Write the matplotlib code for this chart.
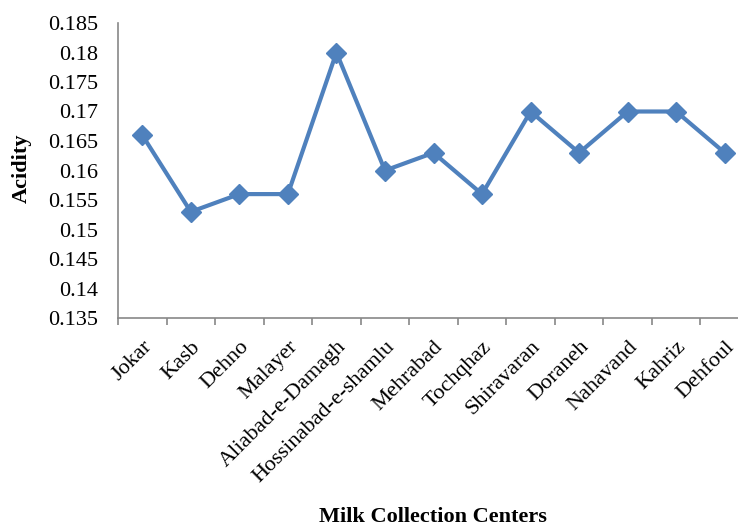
import numpy as np
import matplotlib.pyplot as plt
from matplotlib.ticker import FixedLocator, NullFormatter

centers = ["Jokar", "Kasb", "Dehno", "Malayer", "Aliabad-e-Damagh",
           "Hossinabad-e-shamlu", "Mehrabad", "Tochqhaz", "Shiravaran",
           "Doraneh", "Nahavand", "Kahriz", "Dehfoul"]
acidity = [0.166, 0.153, 0.156, 0.156, 0.180, 0.160, 0.163,
           0.156, 0.170, 0.163, 0.170, 0.170, 0.163]
yticks = [0.135, 0.14, 0.145, 0.15, 0.155, 0.16, 0.165,
          0.17, 0.175, 0.18, 0.185]

plt.rcParams['font.family'] = ['Liberation Serif', 'DejaVu Serif']

fig = plt.figure(figsize=(7.38, 5.29), dpi=100)
# axis extends slightly past the right edge, like the cropped original
ax = fig.add_axes([118 / 738, 1 - 318 / 529, 631 / 738, 295 / 529])

x = np.arange(len(centers))
ax.plot(x, acidity, color='#4F81BD', lw=3, marker='D', ms=10.5,
        markeredgecolor='#4F81BD', clip_on=False)

ax.set_xlim(-0.5, len(centers) - 0.5)
ax.set_ylim(0.135, 0.185)
ax.set_yticks(yticks)
ax.set_yticklabels([f"{v:g}" for v in yticks])

# category labels at centres, tick marks at boundaries (Excel style)
ax.set_xticks(x)
ax.set_xticklabels(centers, rotation=45, ha='right', rotation_mode='anchor')
ax.tick_params(axis='x', which='major', length=0, pad=14, labelsize=16)
ax.xaxis.set_minor_locator(FixedLocator(np.arange(-0.5, len(centers), 1.0)))
ax.xaxis.set_minor_formatter(NullFormatter())
ax.tick_params(axis='x', which='minor', length=5, width=1.2, color='#888888')
ax.tick_params(axis='y', length=0, pad=14, labelsize=16)

for s in ['top', 'right']:
    ax.spines[s].set_visible(False)
for s in ['left', 'bottom']:
    ax.spines[s].set_color('#888888')
    ax.spines[s].set_linewidth(1.2)

fig.text(433 / 738, 1 - 517 / 529, "Milk Collection Centers", ha='center',
         va='center', fontsize=16, fontweight='bold')
fig.text(22 / 738, 1 - 168 / 529, "Acidity", ha='center', va='center',
         rotation=90, fontsize=16, fontweight='bold')

fig.savefig("out.png", dpi=100)
